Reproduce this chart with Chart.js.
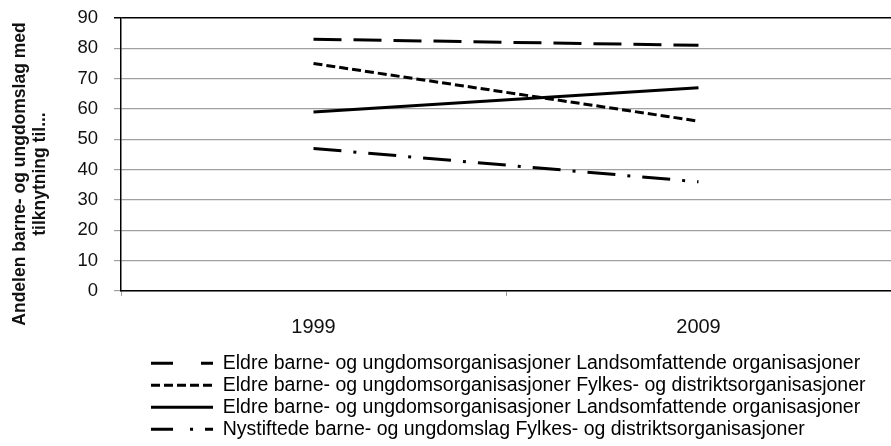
<!DOCTYPE html>
<html>
<head>
<meta charset="utf-8">
<script src="https://cdn.jsdelivr.net/npm/chart.js@4/dist/chart.umd.min.js"></script>
<style>
  html, body { margin: 0; padding: 0; background: #fff; }
  #wrap { width: 891px; height: 446px; }
</style>
</head>
<body>
<div id="wrap"><canvas id="chart"></canvas></div>
<script>
const years = ['1999', '2009'];
const seriesNames = [
  'Eldre barne- og ungdomsorganisasjoner Landsomfattende organisasjoner',
  'Eldre barne- og ungdomsorganisasjoner Fylkes- og distriktsorganisasjoner',
  'Eldre barne- og ungdomsorganisasjoner Landsomfattende organisasjoner',
  'Nystiftede barne- og ungdomslag Fylkes- og distriktsorganisasjoner'
];
const eldreLands = [83, 81];
const eldreFylkes = [75, 56];
const eldreLands2 = [59, 67];
const nyFylkes = [47, 36];
const yTitle = ['Andelen barne- og ungdomslag med', 'tilknytning til...'];

// dash patterns: chart lines and the legend samples
const lineDashes = [[28, 12], [9, 4], [], [28, 12, 3, 12]];
const legendDashes = [[22, 28], [9, 4], [], [22, 17, 3, 12]];

const font = "'Liberation Sans', Arial, sans-serif";

const legendShift = {
  id: 'legendShift',
  afterUpdate(chart) {
    // legend sits in a left-aligned column, like in the original
    chart.legend.left = 148.5;
    chart.legend.top = 351;
  }
};

// rotated two-line axis title, centred a bit lower than the plot centre
const yTitlePlugin = {
  id: 'yTitle',
  afterDraw(chart) {
    const c = chart.ctx;
    c.save();
    c.translate(0, 174);
    c.rotate(-Math.PI / 2);
    c.fillStyle = '#111';
    c.font = "bold 17.5px " + font;
    c.textAlign = 'center';
    c.textBaseline = 'middle';
    c.fillText(yTitle[0], 0, 20);
    c.fillText(yTitle[1], 0, 40);
    c.restore();
  }
};

const ctx = document.getElementById('chart').getContext('2d');
new Chart(ctx, {
  type: 'line',
  data: {
    labels: years,
    datasets: [eldreLands, eldreFylkes, eldreLands2, nyFylkes].map((d, i) => ({
      label: seriesNames[i],
      data: d,
      borderColor: '#000',
      backgroundColor: '#000',
      borderWidth: 3,
      borderDash: lineDashes[i],
      pointRadius: 0,
      fill: false,
      tension: 0,
    })),
  },
  options: {
    responsive: true,
    maintainAspectRatio: false,
    animation: false,
    layout: { padding: { top: 18, right: -4, left: 0, bottom: 0 } },
    plugins: {
      legend: {
        position: 'bottom',
        align: 'start',
        labels: {
          color: '#111',
          font: { family: font, size: 19.5 },
          padding: 2.5,
          usePointStyle: true,
          pointStyle: 'line',
          pointStyleWidth: 62,
          generateLabels(chart) {
            return chart.data.datasets.map((ds, i) => ({
              text: ds.label,
              fillStyle: '#000',
              strokeStyle: '#000',
              lineWidth: 3,
              lineDash: legendDashes[i],
              pointStyle: 'line',
              hidden: false,
              datasetIndex: i,
            }));
          },
        },
      },
      tooltip: { enabled: false },
    },
    scales: {
      x: {
        offset: true,
        ticks: { color: '#111', font: { family: font, size: 20 }, padding: 19 },
        grid: { offset: true, drawOnChartArea: false, color: '#a0a0a0', tickLength: 5 },
        border: { color: '#000', width: 1.5 },
        afterFit(scale) { scale.height = 57; },
      },
      y: {
        min: 0,
        max: 90,
        ticks: { stepSize: 10, color: '#111', font: { family: font, size: 18.5 }, padding: 16 },
        grid: {
          color: c => (c.tick && c.tick.value === 90 ? '#000' : '#a0a0a0'),
          lineWidth: c => (c.tick && c.tick.value === 90 ? 1.5 : 1.2),
          tickLength: 7,
        },
        border: { color: '#000', width: 1.5 },
        afterFit(scale) {
          scale.width = 121;
          scale.paddingTop = 0;
          scale.paddingBottom = 0;
        },
      },
    },
  },
  plugins: [legendShift, yTitlePlugin],
});
</script>
</body>
</html>
